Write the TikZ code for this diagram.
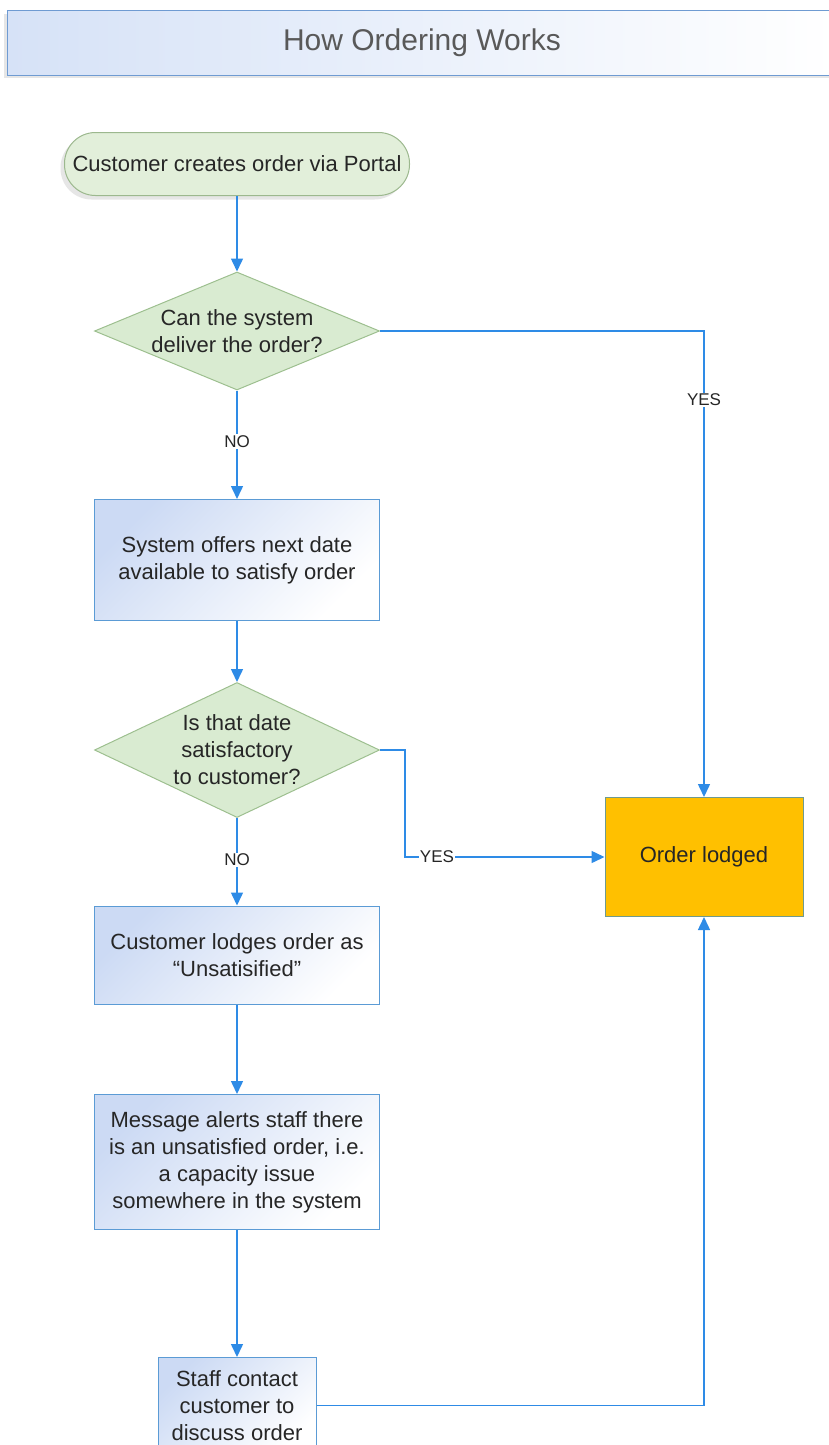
\documentclass[tikz,border=0pt]{standalone}
\usepackage{fontspec}
\setmainfont{Liberation Sans}
\usetikzlibrary{shapes.geometric,arrows.meta,shadows,positioning}
\definecolor{flowblue}{HTML}{2E8BE6}
\definecolor{termfill}{HTML}{E2EFDA}
\definecolor{termline}{HTML}{9CB88E}
\definecolor{decfill}{HTML}{D9EBD1}
\definecolor{decline}{HTML}{9DBF8F}
\definecolor{boxline}{HTML}{5B9BD5}
\definecolor{boxshade}{HTML}{CCDAF4}
\definecolor{lodgedfill}{HTML}{FFC000}
\definecolor{lodgedline}{HTML}{6F9A8F}
\definecolor{titleshade}{HTML}{D6E2F7}
\definecolor{titleline}{HTML}{6F9BD2}

\begin{document}
\begin{tikzpicture}[x=1pt, y=-1pt,
  every node/.style={font=\fontsize{22}{27}\selectfont, text=black!85},
  titlebar/.style={draw=titleline, line width=1pt, left color=titleshade, right color=white,
    minimum width=830pt, minimum height=64pt, font=\fontsize{30}{34}\selectfont, text=black!65,
    drop shadow={shadow xshift=-3pt, shadow yshift=-3pt, opacity=0.2}},
  terminal/.style={draw=termline, fill=termfill, line width=1pt, rounded corners=31pt,
    minimum width=345pt, minimum height=63pt,
    drop shadow={shadow xshift=-4pt, shadow yshift=-4pt, opacity=0.2}},
  decision/.style={diamond, draw=decline, fill=decfill, line width=1pt, inner sep=0pt,
    minimum width=285pt, align=center},
  process/.style={draw=boxline, line width=1pt, left color=boxshade, right color=white,
    shading angle=45, minimum width=285pt, align=center},
  lodgedbox/.style={draw=lodgedline, fill=lodgedfill, line width=1pt,
    minimum width=198pt, minimum height=119pt},
  flow/.style={draw=flowblue, line width=1.5pt, -{Triangle[width=12pt,length=13pt]}},
  answer/.style={fill=white, inner sep=1pt, font=\fontsize{17}{20}\selectfont}
]
  \useasboundingbox (0,0) rectangle (829,1445);

  % Title
  \node[titlebar] (title) at (422,43) {How Ordering Works};

  % Main column
  \node[terminal] (start) at (237,164) {Customer creates order via Portal};
  \node[decision, aspect=2.4, minimum height=118pt] (canDeliver) at (237,331)
    {Can the system\\deliver the order?};
  \node[process, minimum height=121pt] (offerDate) at (237,560)
    {System offers next date\\available to satisfy order};
  \node[decision, aspect=2.1, minimum height=135pt] (dateOk) at (237,750)
    {Is that date\\satisfactory\\to customer?};
  \node[process, minimum height=98pt] (unsatisfied) at (237,955)
    {Customer lodges order as\\“Unsatisified”};
  \node[process, minimum height=135pt] (alertStaff) at (237,1162)
    {Message alerts staff there\\is an unsatisfied order, i.e.\\a capacity issue\\somewhere in the system};
  \node[process, minimum width=158pt, minimum height=96pt, anchor=north] (contact) at (237,1357)
    {Staff contact\\customer to\\discuss order};

  % Result
  \node[lodgedbox] (lodged) at (704,857) {Order lodged};

  % Connectors
  \draw[flow] (start) -- (canDeliver);
  \draw[flow] (canDeliver) -- node[answer, pos=0.47] {NO} (offerDate);
  \draw[flow] (canDeliver.east) -| node[answer, pos=0.574] {YES} (lodged.north);
  \draw[flow] (offerDate) -- (dateOk);
  \draw[flow] (dateOk) -- node[answer, pos=0.48] {NO} (unsatisfied);
  \draw[flow] (dateOk.east) -- ++(25,0) |- node[answer, pos=0.58] {YES} (lodged.west);
  \draw[flow] (unsatisfied) -- (alertStaff);
  \draw[flow] (alertStaff) -- (contact);
  \draw[flow] (contact.east) -| (lodged.south);
\end{tikzpicture}
\end{document}
